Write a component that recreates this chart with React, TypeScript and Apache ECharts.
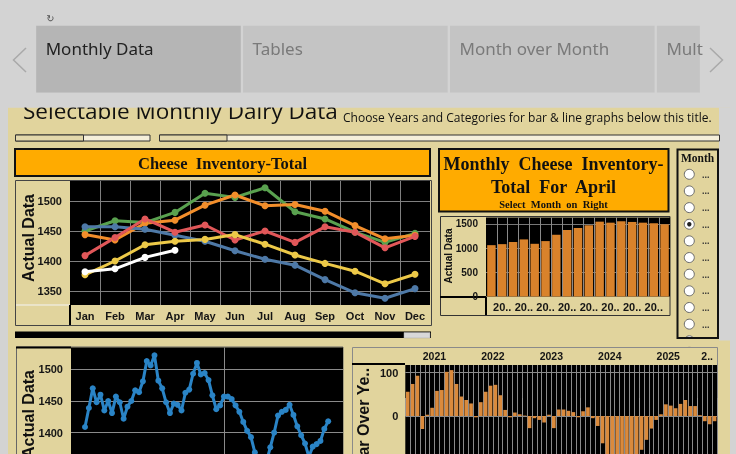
import React, { useEffect, useRef } from 'react';
import * as echarts from 'echarts';

// ---------- data ----------
const months = ['Jan', 'Feb', 'Mar', 'Apr', 'May', 'Jun', 'Jul', 'Aug', 'Sep', 'Oct', 'Nov', 'Dec'];
const lineYears = ['2021', '2022', '2023', '2024', '2025', '2026'];
const inv2021 = [1409, 1439, 1470, 1448, 1460, 1435, 1450, 1431, 1457, 1448, 1422, 1441];
const inv2022 = [1450, 1467, 1464, 1481, 1513, 1506, 1522, 1482, 1470, 1448, 1431, 1446];
const inv2023 = [1444, 1435, 1463, 1468, 1493, 1510, 1492, 1494, 1483, 1459, 1437, 1443];
const inv2024 = [1457, 1457, 1453, 1443, 1433, 1417, 1403, 1393, 1369, 1347, 1338, 1354];
const inv2025 = [1377, 1400, 1427, 1433, 1436, 1444, 1428, 1410, 1396, 1383, 1362, 1378];
const inv2026 = [1382, 1387, 1406, 1418];
const lineColors = ['#e15759', '#59a14f', '#f28e2b', '#4e79a7', '#edc948', '#ffffff'];
const drawOrder = [1, 2, 3, 0, 4, 5];

const aprilYears = ['2010', '2011', '2012', '2013', '2014', '2015', '2016', '2017', '2018', '2019', '2020', '2021', '2022', '2023', '2024', '2025', '2026'];
const aprilValues = [1062, 1083, 1125, 1181, 1090, 1146, 1277, 1375, 1417, 1473, 1548, 1527, 1556, 1542, 1527, 1515, 1494];

const yoy2021 = [56, 74, 93, -30, 3, 19, 58, 60, 102, 106, 74, 45];
const yoy2022 = [37, 29, -3, 32, 56, 70, 72, 48, 14, -3, 8, 4];
const yoy2023 = [1, -28, -5, -9, -15, 3, -28, 15, 15, 12, 9, -3];
const yoy2024 = [11, 20, -5, -23, -63, -93, -89, -101, -114, -112, -99, -92];
const yoy2025 = [-78, -55, -29, -9, 4, 27, 24, 18, 28, 37, 23, 23];
const yoy2026 = [2, -12, -19, -12];

const tabNames = ['Monthly Data', 'Tables', 'Month over Month', 'Mult'];
const radioLabels = ['...', '...', '...', '...', '...', '...', '...', '...', '...', '...', '...'];
const selectedMonth = 3;

const yearSeries = [inv2021, inv2022, inv2023, inv2024, inv2025, inv2026];
const yoySeries = [yoy2021, yoy2022, yoy2023, yoy2024, yoy2025, yoy2026];

// ---------- styling helpers ----------
const TAN = '#e1d49d';
const GRAY = '#d3d3d3';
const SANS = '"Liberation Sans", Arial, sans-serif';
const SERIF = '"Liberation Serif", "Times New Roman", serif';
const plain = (v: number) => String(v);
const axisFont = (size: number) => ({ fontFamily: SANS, fontWeight: 'bold' as const, fontSize: size, color: '#151515' });

const rect = (x: number, y: number, w: number, h: number, fill: string | null, stroke?: string, lw = 1, z = -10) => ({
  type: 'rect', silent: true, z,
  shape: { x, y, width: w, height: h },
  style: { fill: fill ?? 'transparent', stroke: stroke ?? null, lineWidth: stroke ? lw : 0 },
});
const line = (x1: number, y1: number, x2: number, y2: number, stroke: string, lw = 1, z = -9) => ({
  type: 'line', silent: true, z,
  shape: { x1, y1, x2, y2 },
  style: { stroke, lineWidth: lw },
});
const txt = (x: number, y: number, text: string, font: string, fill = '#111', align = 'center', rotation = 0, z = -5) => ({
  type: 'text', silent: true, z, x, y, rotation,
  style: { text, font, fill, align, verticalAlign: 'middle', textAlign: align, textVerticalAlign: 'middle' },
});

function buildGraphics() {
  const g: any[] = [];
  g.push(rect(0, 0, 736, 454, GRAY, undefined, 0, -20));
  // tabs
  tabNames.forEach((name, i) => {
    const x = 36.2 + i * 206.9;
    const w = i < 3 ? 204.6 : 43;
    g.push(rect(x, 25.7, w, 67, i === 0 ? '#b5b5b5' : '#c4c4c4'));
    g.push(txt(x + 9.5, 48, name, `17px "Noto Sans", sans-serif`, i === 0 ? '#222' : '#7a7a7a', 'left'));
  });
  g.push({ type: 'polyline', silent: true, z: -9, shape: { points: [[26, 48], [13.5, 60], [26, 72]] }, style: { stroke: '#a9a9a9', lineWidth: 1.5, fill: null } });
  g.push({ type: 'polyline', silent: true, z: -9, shape: { points: [[710, 48], [722.5, 60], [710, 72]] }, style: { stroke: '#a9a9a9', lineWidth: 1.5, fill: null } });
  g.push(txt(50.5, 18.5, '\u21bb', '10px "DejaVu Sans"', '#555'));

  // dashboard background
  g.push(rect(8, 107.5, 722, 347, TAN));
  g.push(rect(719, 107.5, 17, 233, GRAY));
  g.push(txt(23, 110.5, 'Selectable Monthly Dairy Data', '22.5px "Open Sans", sans-serif', '#111', 'left'));
  g.push(txt(343, 117, 'Choose Years and Categories for bar & line graphs below this title.', '12px "Open Sans", sans-serif', '#111', 'left'));
  g.push(rect(0, 92.7, 736, 14.8, GRAY, undefined, 0, 100));

  // filter boxes
  g.push(rect(15.5, 135, 134.5, 6, '#f5efda', '#333', 1));
  g.push(rect(15.5, 135, 68, 6, '#e3d8ab', '#333', 1));
  g.push(rect(159.5, 135, 560, 6, '#f5efda', '#333', 1));
  g.push(rect(159.5, 135, 67.5, 6, '#e3d8ab', '#333', 1));

  // main line chart frame
  g.push(rect(15, 149, 415, 27, '#ffab00', '#111', 2));
  g.push(txt(222.5, 163, 'Cheese  Inventory-Total', `bold 16.5px ${SERIF}`, '#111'));
  g.push(rect(15.5, 180.5, 416, 145, TAN, '#444', 1));
  g.push(line(16, 305, 70, 305, '#f4f4f4', 1));
  g.push(line(70, 305, 70, 325, '#000', 2));
  g.push(txt(28, 238, 'Actual Data', `bold 16px ${SANS}`, '#111', 'center', Math.PI / 2));

  // april bar chart frame
  g.push(rect(439, 149, 229.5, 62.5, '#ffab00', '#111', 2));
  g.push(txt(553.5, 163.5, 'Monthly  Cheese  Inventory-', `bold 18px ${SERIF}`, '#111'));
  g.push(txt(553.5, 186.5, 'Total  For  April', `bold 18px ${SERIF}`, '#111'));
  g.push(txt(553.5, 204.5, 'Select  Month  on  Right', `bold 10.5px ${SERIF}`, '#111'));
  g.push(rect(440.5, 216.5, 229.5, 99, TAN, '#333', 1));
  g.push(line(440, 297, 486, 297, '#000', 2));
  g.push(line(486, 297, 486, 315, '#000', 2));
  g.push(txt(448.5, 256, 'Actual Data', `bold 10px ${SANS}`, '#111', 'center', Math.PI / 2));

  // month radio list
  g.push(rect(677.5, 149.5, 40.5, 188.5, TAN));
  g.push(txt(697.5, 157.5, 'Month', `bold 11.5px ${SERIF}`, '#111'));
  radioLabels.forEach((lab, i) => {
    const cy = 174.3 + i * 16.65;
    g.push({ type: 'circle', silent: true, z: -8, shape: { cx: 689.3, cy, r: 5 }, style: { fill: '#ffffff', stroke: '#6a6a6a', lineWidth: 1 } });
    if (i === selectedMonth) g.push({ type: 'circle', silent: true, z: -7, shape: { cx: 689.3, cy, r: 2.2 }, style: { fill: '#222' } });
    g.push(txt(702, cy + 0.5, lab, `bold 9px ${SANS}`, '#333', 'left'));
  });
  g.push(rect(676, 338.5, 43, 8, TAN, undefined, 0, 100));
  g.push(rect(677.5, 149.5, 40.5, 188.5, null, '#111', 2, 101));

  // bottom-left frame
  g.push(rect(15, 331.5, 416, 6.5, '#000'));
  g.push(rect(404, 332.5, 26, 5.5, '#d8d8d8', '#aaa', 0.5));
  g.push(rect(16.5, 347, 326.5, 120, TAN, '#666', 1));
  g.push(line(16, 347.5, 71, 347.5, '#000', 2));
  g.push(txt(28.5, 414, 'Actual Data', `bold 16px ${SANS}`, '#111', 'center', Math.PI / 2));

  // bottom-right frame
  g.push(rect(352.5, 347.5, 365, 120, TAN, '#8a8a8a', 1));
  g.push(line(352, 364, 405, 364, '#000', 2));
  g.push(txt(363, 421, 'Year Over Ye..', `bold 16px ${SANS}`, '#111', 'center', Math.PI / 2));
  return g;
}

function buildOption(): any {
  const monthlyAll = yearSeries.flat();
  const yoyAll = yoySeries.flat();
  const yoyKeys = lineYears.flatMap((y, i) => yoySeries[i].map((_, m) => `${y}-${months[m]}`));
  const gridBase = { show: true, backgroundColor: '#000', borderWidth: 0, containLabel: false, outerBoundsMode: 'none' };
  const split = (c = '#7f7f7f') => ({ show: true, showMinLine: false, showMaxLine: false, lineStyle: { color: c, width: 1 } });

  const lineSeries = drawOrder.map((i) => ({
    name: lineYears[i], type: 'line', xAxisIndex: 0, yAxisIndex: 0,
    data: yearSeries[i], symbol: 'circle', symbolSize: 7, showAllSymbol: true,
    lineStyle: { width: 3, color: lineColors[i] }, itemStyle: { color: lineColors[i] },
  }));

  return {
    animation: false,
    graphic: { elements: buildGraphics() },
    grid: [
      { ...gridBase, left: 70, top: 181, width: 360, height: 124 },
      { ...gridBase, left: 486, top: 217.5, width: 184, height: 79 },
      { ...gridBase, left: 71, top: 347.5, width: 272, height: 150 },
      { ...gridBase, left: 405.3, top: 365, width: 311.7, height: 150 },
    ],
    xAxis: [
      {
        gridIndex: 0, type: 'category', data: months, boundaryGap: true,
        axisLine: { show: false }, axisTick: { show: false },
        axisLabel: { ...axisFont(11), margin: 5, interval: 0 },
        splitLine: { ...split(), interval: 0 },
      },
      {
        gridIndex: 1, type: 'category', data: aprilYears, boundaryGap: true,
        axisLine: { show: false }, axisTick: { show: false },
        axisLabel: { ...axisFont(11), margin: 5, interval: (i: number) => i % 2 === 1, formatter: (v: string) => v.slice(0, 2) + '..' },
        splitLine: { ...split('#8a8a8a'), interval: 0 },
      },
      {
        gridIndex: 2, type: 'value', min: -3.63, max: 66.84,
        axisLine: { show: false },
        axisTick: { show: false, customValues: [12, 36, 60] },
        axisLabel: { show: false, customValues: [12, 36, 60] },
        splitLine: split('#8a8a8a'),
      },
      {
        gridIndex: 3, type: 'category', position: 'top', data: yoyKeys, boundaryGap: true,
        axisLine: { show: false },
        axisTick: { show: true, interval: (i: number) => i % 12 === 0, length: 18, lineStyle: { color: '#9a9a9a', width: 1 } },
        axisLabel: {
          ...axisFont(10.5), margin: 4, padding: [0, 5, 0, 0],
          interval: (i: number) => i % 12 === 6 || i === 62,
          formatter: (v: string) => (v.slice(0, 4) === '2026' ? '2..' : v.slice(0, 4)),
        },
        splitLine: { ...split('#8a8a8a'), interval: 0 },
      },
    ],
    yAxis: [
      {
        gridIndex: 0, type: 'value', min: 1326.7, max: 1533.3, splitNumber: 4,
        axisLine: { show: false }, axisTick: { show: false },
        axisLabel: { ...axisFont(11), margin: 8, showMinLabel: false, showMaxLabel: false, formatter: plain },
        splitLine: split(),
      },
      {
        gridIndex: 1, type: 'value', min: 0, max: 1634, interval: 500,
        axisLine: { show: false }, axisTick: { show: false },
        axisLabel: { ...axisFont(10), margin: 8, showMaxLabel: false, formatter: plain },
        splitLine: split('#777'),
      },
      {
        gridIndex: 2, type: 'value', min: 1297.8, max: 1534.4, splitNumber: 4,
        axisLine: { show: false }, axisTick: { show: false },
        axisLabel: { ...axisFont(11), margin: 8, showMinLabel: false, showMaxLabel: false, formatter: plain },
        splitLine: split('#8a8a8a'),
      },
      {
        gridIndex: 3, type: 'value', min: -228.6, max: 117.8, splitNumber: 3,
        axisLine: { show: false }, axisTick: { show: false },
        axisLabel: { ...axisFont(11), margin: 7, showMinLabel: false, showMaxLabel: false, formatter: plain },
        splitLine: split('#8a8a8a'),
      },
    ],
    series: [
      ...lineSeries,
      {
        name: 'April', type: 'bar', xAxisIndex: 1, yAxisIndex: 1, data: aprilValues,
        barCategoryGap: '22%', itemStyle: { color: '#d9822b' },
      },
      {
        name: 'Monthly', type: 'line', xAxisIndex: 2, yAxisIndex: 2,
        data: monthlyAll.map((v, i) => [i, v]), symbol: 'circle', symbolSize: 6, showAllSymbol: true,
        lineStyle: { width: 3, color: '#2a84c6' }, itemStyle: { color: '#2a84c6' },
      },
      {
        name: 'YoY', type: 'bar', xAxisIndex: 3, yAxisIndex: 3, data: yoyAll,
        barCategoryGap: '25%', itemStyle: { color: '#da8a3c' },
      },
    ],
  };
}

export default function App() {
  const ref = useRef<HTMLDivElement>(null);
  useEffect(() => {
    if (!ref.current) return;
    const chart = echarts.init(ref.current, undefined, { renderer: 'svg' });
    chart.setOption(buildOption());
    return () => chart.dispose();
  }, []);
  return <div ref={ref} style={{ position: 'fixed', left: 0, top: 0, width: 736, height: 454 }} />;
}
